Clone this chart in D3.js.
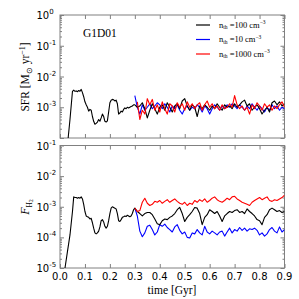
<!DOCTYPE html>
<html>
<head>
<meta charset="utf-8">
<script src="https://cdn.jsdelivr.net/npm/d3@7"></script>
<style>
  body { margin: 0; background: #fff; }
  svg { display: block; }
</style>
</head>
<body>
<svg width="299" height="299"></svg>
<script>
// black run before the threshold split (Gyr)
const T_EARLY = [0.02, 0.03, 0.04, 0.05, 0.055, 0.06, 0.065, 0.07, 0.075, 0.08, 0.085, 0.09, 0.095,
  0.10, 0.105, 0.11, 0.115, 0.12, 0.125, 0.13, 0.135, 0.14, 0.145, 0.15, 0.155, 0.16, 0.165, 0.17,
  0.175, 0.18, 0.185, 0.19, 0.195, 0.20, 0.205, 0.21, 0.215, 0.22, 0.225, 0.23, 0.235, 0.24, 0.245,
  0.25, 0.255, 0.26, 0.265, 0.27, 0.275, 0.28, 0.285, 0.29, 0.295];
const T_LATE = d3.range(0.30, 0.905, 0.01);

// SFR in units of 1e-3 Msun/yr
const SFR_EARLY = [0.015, 0.06, 0.4, 3.3, 3.6, 3.3, 3.4, 3.2, 3.5, 3.3, 3.8, 3.0, 2.2,
  1.5, 1.2, 1.0, 0.75, 0.85, 0.8, 0.5, 0.35, 0.28, 0.3, 0.33, 0.4, 0.35, 0.45, 0.6,
  0.5, 0.35, 0.33, 0.36, 0.7, 1.4, 1.7, 1.8, 1.75, 1.6, 1.7, 1.3, 0.6, 0.65, 0.75,
  0.7, 0.85, 0.95, 0.9, 1.0, 0.95, 1.0, 1.05, 1.1, 1.2];
const SFR_100 = [1.2, 1.0, 1.1, 1.4, 0.9, 0.45, 0.8, 1.3, 0.9, 0.6, 1.0, 1.2, 0.8, 1.4, 1.0, 0.7,
  1.1, 1.3, 0.9, 1.6, 1.9, 1.1, 0.8, 1.2, 1.0, 0.5, 1.1, 0.9, 1.2, 1.0, 0.8, 1.1, 0.9, 1.3, 1.0,
  0.8, 1.2, 1.0, 1.1, 0.9, 1.3, 1.0, 1.2, 1.5, 1.7, 1.1, 1.3, 0.8, 1.0, 1.2, 0.9, 0.6, 0.8, 1.0,
  0.7, 1.4, 1.6, 1.2, 1.5, 1.1, 1.3];
const SFR_10 = [2.4, 1.0, 0.6, 1.2, 0.8, 1.0, 1.3, 0.9, 1.1, 1.4, 1.2, 0.9, 1.3, 1.0, 0.7, 1.1,
  0.9, 1.2, 0.8, 0.6, 0.9, 1.1, 0.8, 1.0, 0.9, 1.2, 1.0, 0.7, 1.1, 0.9, 0.6, 0.9, 1.2, 1.0, 0.8,
  1.1, 0.9, 1.2, 1.0, 1.3, 1.1, 0.9, 1.2, 1.0, 0.8, 1.1, 0.9, 1.3, 1.0, 0.8, 1.1, 0.9, 0.7, 1.0,
  0.8, 1.2, 0.9, 1.1, 0.8, 1.0, 0.9];
// red starts one step later (0.31)
const SFR_1000 = [1.5, 0.4, 0.8, 0.6, 1.9, 1.2, 1.8, 0.8, 1.2, 0.7, 1.5, 0.9, 0.6, 1.3, 1.1,
  0.7, 1.4, 1.0, 1.3, 0.8, 1.5, 1.0, 1.3, 0.9, 1.2, 1.4, 0.8, 1.2, 1.6, 1.0, 1.3, 0.9, 1.1, 0.8,
  1.2, 0.9, 1.0, 1.3, 1.0, 2.4, 1.2, 0.9, 1.1, 0.8, 1.0, 0.6, 1.2, 0.9, 1.4, 1.1, 0.8, 1.3, 1.0,
  1.2, 0.8, 1.1, 0.9, 1.2, 1.5, 1.0];

// F_H2 in units of 1e-4
const FH2_EARLY = [0.1, 0.35, 1.2, 7, 21, 20, 20, 19, 20, 19, 21, 18, 12,
  7, 5, 4.7, 4.5, 4, 4.2, 3, 2, 1.4, 1.3, 1.4, 1.6, 2.2, 3.5, 3.8,
  3.2, 2.3, 2.0, 2.3, 3.5, 6, 9, 10, 9.5, 9, 8.5, 6, 3.5, 3.3, 3.8,
  4.5, 4.7, 5, 4.8, 5.3, 5, 4.7, 5, 6, 8];
const FH2_100 = [9, 7, 6, 5, 6, 6.5, 6.5, 5.5, 4, 2.8, 2.6, 3.5, 4, 3.8, 4.5, 5, 6, 8, 9.5, 6,
  3.3, 4.5, 5.5, 7, 9.5, 9, 6, 2.6, 4.5, 5.5, 8, 7, 6, 7, 5, 3.3, 5, 6, 7, 6.5, 7.5, 8, 6.5, 7,
  6, 8.5, 7, 6, 5, 3.8, 3.5, 2.6, 4.5, 5.5, 8, 9, 8, 7, 7.5, 6.5, 7];
const FH2_10 = [9, 5, 1.6, 1.05, 1.4, 2.3, 2.5, 1.8, 1.2, 1.5, 2.6, 2.3, 2.7, 2.1, 1.8, 1.5, 2.2,
  2.6, 1.7, 1.3, 1.5, 1.0, 0.95, 1.4, 1.3, 1.8, 1.4, 1.2, 2.3, 1.5, 1.3, 1.6, 1.4, 1.2, 1.5, 1.6,
  1.1, 1.5, 2.0, 1.4, 1.8, 1.6, 2.1, 1.7, 2.0, 1.6, 1.9, 1.8, 2.0, 1.7, 1.2, 1.4, 1.1, 1.3, 1.8,
  2.1, 1.6, 1.4, 2.2, 1.5, 1.8];
const FH2_1000 = [9, 7, 7.5, 14, 19, 13, 11, 12, 15, 14, 16, 13, 15, 17, 14, 16, 18, 15, 13, 12,
  14, 11, 13, 12, 16, 14, 17, 15, 18, 14, 16, 19, 21, 17, 15, 14, 16, 19, 17, 21, 22, 18, 16, 14,
  13, 12, 11, 14, 16, 18, 20, 17, 19, 21, 16, 15, 17, 16, 18, 20, 24];

const X_TICKS = [0, 0.1, 0.2, 0.3, 0.4, 0.5, 0.6, 0.7, 0.8, 0.9];
const LEGEND = ["100", "10", "1000"];
const COLORS = ["#000000", "#0000ff", "#ff0000"];

const LEFT = 60, RIGHT = 284.5;
const FRAME = "#808080";

const svg = d3.select("svg");
const x = d3.scaleLinear().domain([0, 0.9]).range([LEFT, RIGHT]);
const ySfr = d3.scaleLog().domain([1e-4, 1]).range([138, 15]);
const yFh2 = d3.scaleLog().domain([1e-5, 1e-1]).range([268, 145.5]);

function pairs(ts, vs, unit) {
  return vs.map((v, i) => [ts[i], v * unit]);
}

function panel(y, id, exps, showLabels) {
  const [y0, y1] = y.range();
  const g = svg.append("g");
  g.append("clipPath").attr("id", id)
    .append("rect").attr("x", LEFT).attr("y", y1)
    .attr("width", RIGHT - LEFT).attr("height", y0 - y1);

  const [lo, hi] = y.domain();
  const minors = [];
  for (let e = Math.round(Math.log10(lo)); e < Math.round(Math.log10(hi)); e++) {
    for (let k = 2; k < 10; k++) minors.push(k * Math.pow(10, e));
  }
  const majors = exps.map((e) => Math.pow(10, e));

  const tickAxis = (axis, tr) => {
    g.append("g").attr("transform", tr).call(axis)
      .call((s) => s.select(".domain").remove())
      .call((s) => s.selectAll("line").attr("stroke", FRAME))
      .call((s) => s.selectAll("text").remove());
  };
  tickAxis(d3.axisLeft(y).tickValues(majors).tickSize(-4), `translate(${LEFT},0)`);
  tickAxis(d3.axisLeft(y).tickValues(minors).tickSize(-2), `translate(${LEFT},0)`);
  tickAxis(d3.axisRight(y).tickValues(majors).tickSize(-4), `translate(${RIGHT},0)`);
  tickAxis(d3.axisRight(y).tickValues(minors).tickSize(-2), `translate(${RIGHT},0)`);
  tickAxis(d3.axisTop(x).tickValues(X_TICKS).tickSize(-4), `translate(0,${y1})`);
  tickAxis(d3.axisBottom(x).tickValues(X_TICKS).tickSize(-4), `translate(0,${y0})`);

  const lab = g.append("g").attr("font-family", "DejaVu Sans").attr("fill", "#000");
  exps.filter(showLabels).forEach((e) => {
    const t = lab.append("text").attr("x", 36.5).attr("y", y(Math.pow(10, e)) + 4)
      .attr("font-size", 10);
    t.append("tspan").text("10");
    t.append("tspan").attr("dy", -5).attr("font-size", 7).text(e === 0 ? "0" : "-" + (-e));
  });

  g.append("rect").attr("x", LEFT).attr("y", y1)
    .attr("width", RIGHT - LEFT).attr("height", y0 - y1)
    .attr("fill", "none").attr("stroke", FRAME).attr("stroke-width", 1);
  return g;
}

function drawLines(g, y, id, series) {
  const line = d3.line().x((d) => x(d[0])).y((d) => y(d[1]));
  const lg = g.append("g").attr("clip-path", `url(#${id})`);
  series.forEach((s) => {
    lg.append("path").datum(s.data).attr("d", line)
      .attr("fill", "none").attr("stroke", s.color)
      .attr("stroke-width", 1.1).attr("stroke-linejoin", "round");
  });
}

const topPanel = panel(ySfr, "clipTop", [0, -1, -2, -3, -4], (e) => e > -4);
const botPanel = panel(yFh2, "clipBot", [-1, -2, -3, -4, -5], () => true);

drawLines(topPanel, ySfr, "clipTop", [
  { color: COLORS[1], data: pairs(T_LATE, SFR_10, 1e-3) },
  { color: COLORS[0], data: pairs(T_EARLY, SFR_EARLY, 1e-3).concat(pairs(T_LATE, SFR_100, 1e-3)) },
  { color: COLORS[2], data: pairs(T_LATE.slice(1), SFR_1000, 1e-3) },
]);
drawLines(botPanel, yFh2, "clipBot", [
  { color: COLORS[1], data: pairs(T_LATE, FH2_10, 1e-4) },
  { color: COLORS[0], data: pairs(T_EARLY, FH2_EARLY, 1e-4).concat(pairs(T_LATE, FH2_100, 1e-4)) },
  { color: COLORS[2], data: pairs(T_LATE, FH2_1000, 1e-4) },
]);

// x tick labels under the lower panel
svg.append("g").attr("font-family", "DejaVu Sans").attr("font-size", 10)
  .selectAll("text").data(X_TICKS).join("text")
  .attr("x", (d) => x(d)).attr("y", 280).attr("text-anchor", "middle")
  .text((d) => d.toFixed(1));

const serif = "Liberation Serif";
svg.append("text").attr("x", 83).attr("y", 37).attr("font-family", serif)
  .attr("font-size", 11.5).text("G1D01");

// legend
const leg = svg.append("g").attr("font-family", serif).attr("font-size", 8.5);
LEGEND.forEach((n, i) => {
  const yy = 25 + i * 14.5;
  leg.append("line").attr("x1", 196).attr("x2", 210).attr("y1", yy).attr("y2", yy)
    .attr("stroke", COLORS[i]).attr("stroke-width", 1.2);
  const t = leg.append("text").attr("x", 219).attr("y", yy + 2.5);
  t.append("tspan").text("n");
  t.append("tspan").attr("dy", 1.8).attr("font-size", 5.5).text("th");
  t.append("tspan").attr("dy", -1.8).text(" =" + n + " cm");
  t.append("tspan").attr("dy", -3.5).attr("font-size", 5.5).text("\u22123");
});

// axis titles
const ly = svg.append("text").attr("transform", "translate(29,77) rotate(-90)")
  .attr("text-anchor", "middle").attr("font-family", serif).attr("font-size", 11.5);
ly.append("tspan").text("SFR [M");
ly.append("tspan").attr("dy", 2.5).attr("font-size", 8).text("\u2299");
ly.append("tspan").attr("dy", -2.5).text(" yr");
ly.append("tspan").attr("dy", -4.5).attr("font-size", 8).text("\u22121");
ly.append("tspan").attr("dy", 4.5).text("]");

const lf = svg.append("text").attr("transform", "translate(29,207) rotate(-90)")
  .attr("text-anchor", "middle").attr("font-family", serif).attr("font-size", 12);
lf.append("tspan").attr("font-style", "italic").text("F");
lf.append("tspan").attr("dy", 2.5).attr("font-size", 7.5).text("H");
lf.append("tspan").attr("dy", 1.5).attr("font-size", 5.5).text("2");

svg.append("text").attr("x", 172).attr("y", 294).attr("text-anchor", "middle")
  .attr("font-family", serif).attr("font-size", 11.5).text("time [Gyr]");
</script>
</body>
</html>
